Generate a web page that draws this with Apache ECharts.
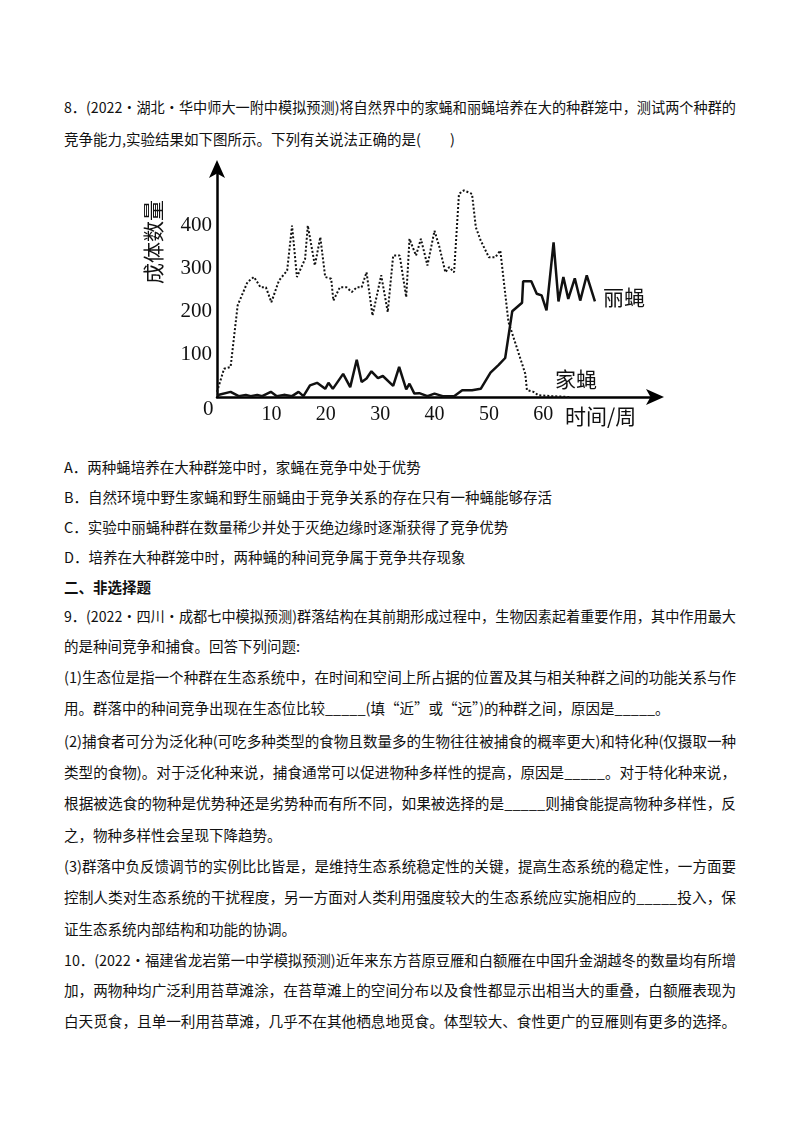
<!DOCTYPE html>
<html>
<head>
<meta charset="utf-8">
<script src="https://cdn.jsdelivr.net/npm/echarts@6/dist/echarts.min.js"></script>
<style>
body { margin: 0; background: #fff; }
#page { position: relative; width: 800px; height: 1132px; font-family: "Noto Sans CJK SC", sans-serif; font-size: 14.5px; color: #111; }
.ln { position: absolute; left: 64px; white-space: nowrap; line-height: 20px; transform-origin: 0 0; }
#chart { position: absolute; left: 0; top: 150px; width: 800px; height: 300px; }
</style>
</head>
<body>
<div id="page">
  <div id="chart"></div>
</div>
<script>
// 页面文字 [y, 文本, 是否撑满整行, 是否加粗]
var textLines = [
    [97, '8．(2022·湖北·华中师大一附中模拟预测)将自然界中的家蝇和丽蝇培养在大的种群笼中，测试两个种群的', true],
    [129, '竞争能力,实验结果如下图所示。下列有关说法正确的是(　　)', false],
    [457, 'A．两种蝇培养在大种群笼中时，家蝇在竞争中处于优势', false],
    [487, 'B．自然环境中野生家蝇和野生丽蝇由于竞争关系的存在只有一种蝇能够存活', false],
    [517, 'C．实验中丽蝇种群在数量稀少并处于灭绝边缘时逐渐获得了竞争优势', false],
    [547, 'D．培养在大种群笼中时，两种蝇的种间竞争属于竞争共存现象', false],
    [577, '二、非选择题', false, true],
    [606, '9．(2022·四川·成都七中模拟预测)群落结构在其前期形成过程中，生物因素起着重要作用，其中作用最大', true],
    [636, '的是种间竞争和捕食。回答下列问题:', false],
    [667, '(1)生态位是指一个种群在生态系统中，在时间和空间上所占据的位置及其与相关种群之间的功能关系与作', true],
    [698, '用。群落中的种间竞争出现在生态位比较_____(填“近”或“远”)的种群之间，原因是_____。', false],
    [731, '(2)捕食者可分为泛化种(可吃多种类型的食物且数量多的生物往往被捕食的概率更大)和特化种(仅摄取一种', true],
    [762, '类型的食物)。对于泛化种来说，捕食通常可以促进物种多样性的提高，原因是_____。对于特化种来说，', true],
    [793, '根据被选食的物种是优势种还是劣势种而有所不同，如果被选择的是_____则捕食能提高物种多样性，反', true],
    [825, '之，物种多样性会呈现下降趋势。', false],
    [856, '(3)群落中负反馈调节的实例比比皆是，是维持生态系统稳定性的关键，提高生态系统的稳定性，一方面要', true],
    [887, '控制人类对生态系统的干扰程度，另一方面对人类利用强度较大的生态系统应实施相应的_____投入，保', true],
    [919, '证生态系统内部结构和功能的协调。', false],
    [950, '10．(2022·福建省龙岩第一中学模拟预测)近年来东方苔原豆雁和白额雁在中国升金湖越冬的数量均有所增', true],
    [980, '加，两物种均广泛利用苔草滩涂，在苔草滩上的空间分布以及食性都显示出相当大的重叠，白额雁表现为', true],
    [1011, '白天觅食，且单一利用苔草滩，几乎不在其他栖息地觅食。体型较大、食性更广的豆雁则有更多的选择。', true]
];

// 家蝇 (虚线) [周, 数量]
var houseFly = [[0,12],[1.3,66],[2.5,70],[3.8,214],[5.6,268],[6.8,280],[8,256],[9,256],[10,221],[11.4,272],[12.9,295],[13.8,400],[14.7,280],[16.2,322],[16.7,400],[18,307],[19,373],[19.9,280],[21,276],[21.4,225],[22.6,256],[23.8,256],[24.8,245],[25.7,256],[26.6,256],[27.5,291],[28.6,190],[30.2,284],[31.4,198],[32.4,330],[33.6,330],[34.8,233],[35.4,369],[36.6,330],[37.5,369],[38.7,307],[40,388],[40.9,350],[42,291],[42.7,303],[43.6,291],[44.5,474],[45.4,482],[46.9,474],[47.6,396],[48.5,365],[50,326],[51.2,326],[52.1,342],[53.6,175],[54.3,148],[56.7,54],[57,16],[58.2,12],[59.1,4],[61.6,2],[64.9,0]];

// 丽蝇 (实线) [周, 数量]
var blowFly = [[0,4],[2.5,12],[4,2],[5.3,5],[6.2,2],[7.4,5],[8.3,2],[9.9,12],[11,2],[12.3,5],[13.8,2],[15,12],[15.9,2],[17.1,27],[18.4,33],[19.9,19],[20.5,33],[21.3,19],[23.2,54],[24.5,23],[25.7,87],[26.6,35],[27.5,43],[28.4,60],[29.6,44],[30.5,49],[32.4,26],[33.5,70],[34.8,18],[35.4,31],[36.3,8],[37.2,9],[38.7,2],[40,8],[41.5,2],[43.6,2],[45.1,16],[46.9,16],[48.5,19],[50.3,57],[51.8,75],[53,91],[54.3,200],[56.1,220],[56.3,270],[57.8,270],[58.8,241],[59.7,237],[60.6,202],[61.9,361],[62.8,223],[63.7,280],[64.6,229],[65.8,277],[66.8,225],[68,284],[69.5,223]];

var xTickLabels = [10, 20, 30, 40, 50, 60];
var yTickLabels = [100, 200, 300, 400];

// 文字：整行的按宽度缩放到 672px
var page = document.getElementById('page');
textLines.forEach(function (t) {
    var d = document.createElement('div');
    d.className = 'ln';
    d.style.top = t[0] + 'px';
    if (t[3]) d.style.fontWeight = 'bold';
    d.textContent = t[1];
    page.appendChild(d);
    if (t[2]) {
        var w = d.getBoundingClientRect().width;
        d.style.transform = 'scaleX(' + (672 / w) + ')';
    }
});

// 图表
var chart = echarts.init(document.getElementById('chart'));
var serif = '"Liberation Serif", "DejaVu Serif", serif';
var axisLine = { show: true, symbol: ['none', 'arrow'], symbolSize: [12, 18], symbolOffset: [0, 12], lineStyle: { color: '#000', width: 2.5 } };
chart.setOption({
    animation: false,
    grid: { left: 217, right: 148, top: 22, bottom: 53 },
    xAxis: {
        type: 'value', min: 0, max: 80, interval: 10,
        axisLine: axisLine, axisTick: { show: false }, splitLine: { show: false },
        axisLabel: {
            color: '#111', fontSize: 20, fontFamily: serif, margin: 8,
            formatter: function (v) { return xTickLabels.indexOf(v) >= 0 ? v : ''; }
        }
    },
    yAxis: {
        type: 'value', min: 0, max: 525, interval: 100,
        axisLine: axisLine, axisTick: { show: false }, splitLine: { show: false },
        axisLabel: {
            color: '#111', fontSize: 21, fontFamily: serif, margin: 5,
            formatter: function (v) { return yTickLabels.indexOf(v) >= 0 ? v : ''; }
        }
    },
    graphic: [
        { type: 'text', left: 203, top: 249, style: { text: '0', font: '21px ' + serif, fill: '#111' } },
        { type: 'text', left: 565, top: 256, style: { text: '时间/周', font: '21px "Noto Sans CJK SC"', fill: '#111' } },
        { type: 'text', left: 603, top: 137, style: { text: '丽蝇', font: '21px "Noto Sans CJK SC"', fill: '#111' } },
        { type: 'text', left: 555, top: 219, style: { text: '家蝇', font: '21px "Noto Sans CJK SC"', fill: '#111' } },
        { type: 'text', left: 143, top: 50, rotation: Math.PI / 2, originX: 0, originY: 0,
          style: { text: '成体数量', font: '21px "Noto Sans CJK SC"', fill: '#111' } }
    ],
    series: [
        { type: 'line', data: houseFly, symbol: 'none', lineStyle: { color: '#111', width: 2, type: 'dotted' } },
        { type: 'line', data: blowFly, symbol: 'none', lineStyle: { color: '#111', width: 2.5 } }
    ]
});
</script>
</body>
</html>
